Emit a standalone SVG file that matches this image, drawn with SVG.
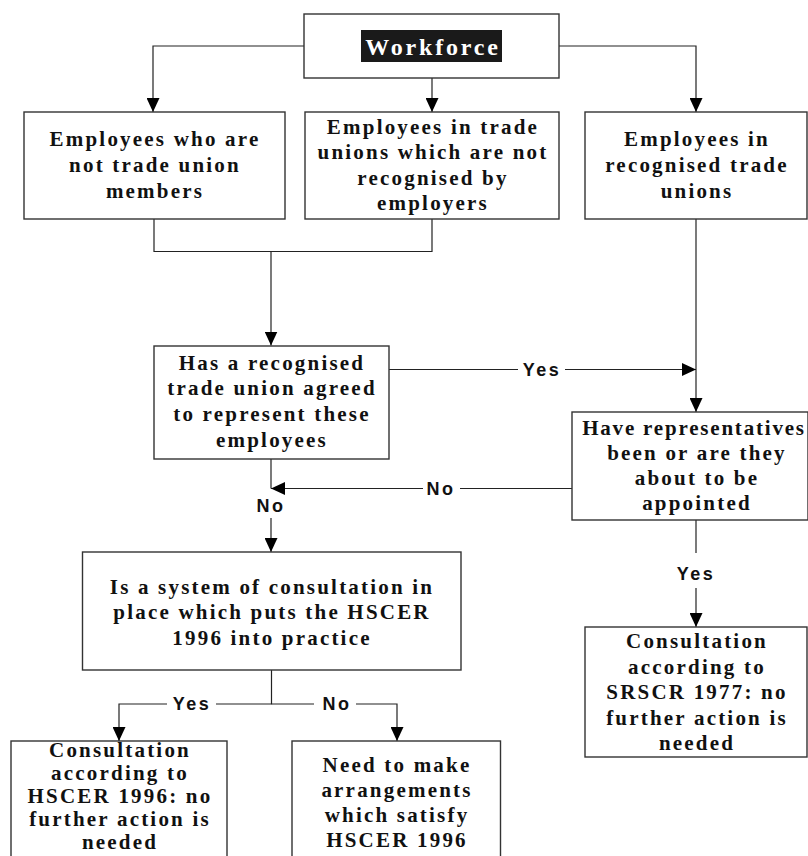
<svg xmlns="http://www.w3.org/2000/svg" width="808" height="856" viewBox="0 0 808 856">
<style>
.box{fill:#fff;stroke:#333;stroke-width:1.4}
.t{font-family:"Liberation Serif","Times New Roman",serif;font-weight:bold;font-size:21px;letter-spacing:2.2px;fill:#111;text-anchor:middle}
.lbl{font-family:"Liberation Sans",Arial,sans-serif;font-weight:bold;font-size:18px;letter-spacing:2.5px;fill:#111;text-anchor:middle}
.c{fill:none;stroke:#222;stroke-width:1.2}
</style>
<defs>
<marker id="arr" markerUnits="userSpaceOnUse" markerWidth="15" markerHeight="13" refX="14" refY="6.5" orient="auto">
<path d="M0,0 L14,6.5 L0,13 z" fill="#000"/>
</marker>
</defs>
<rect width="808" height="856" fill="#fff"/>

<g id="connectors">
<path class="c" d="M304,46 H153 V112" marker-end="url(#arr)"/>
<path class="c" d="M432,78 V112" marker-end="url(#arr)"/>
<path class="c" d="M559,46 H696 V112" marker-end="url(#arr)"/>
<path class="c" d="M154,219 V251.5 H432 V219"/>
<path class="c" d="M271,251.5 V345.5" marker-end="url(#arr)"/>
<path class="c" d="M696,219 V412" marker-end="url(#arr)"/>
<path class="c" d="M389,369.5 H518"/>
<path class="c" d="M565,369.5 H696" marker-end="url(#arr)"/>
<path class="c" d="M572,488.5 H460"/>
<path class="c" d="M423,488.5 H271" marker-end="url(#arr)"/>
<path class="c" d="M271,459 V488.5"/>
<path class="c" d="M271,518 V552" marker-end="url(#arr)"/>
<path class="c" d="M271.5,670 V704 H216"/>
<path class="c" d="M167,704 H119 V741" marker-end="url(#arr)"/>
<path class="c" d="M271.5,704 H314"/>
<path class="c" d="M356,704 H397 V741" marker-end="url(#arr)"/>
<path class="c" d="M696,520 V553"/>
<path class="c" d="M696,588 V627" marker-end="url(#arr)"/>
<text class="lbl" x="542" y="376">Yes</text>
<text class="lbl" x="441" y="495">No</text>
<text class="lbl" x="271" y="512">No</text>
<text class="lbl" x="696" y="580">Yes</text>
<text class="lbl" x="192" y="710">Yes</text>
<text class="lbl" x="337" y="710">No</text>
</g>

<g id="workforce">
<rect class="box" x="304" y="14" width="255" height="64"/>
<rect x="361" y="30" width="141" height="32" fill="#1a1a1a"/>
<text x="433" y="54.5" style="font-family:'Liberation Serif','Times New Roman',serif;font-weight:bold;font-size:24px;letter-spacing:2.8px;fill:#fff;text-anchor:middle">Workforce</text>
</g>

<g id="non-members">
<rect class="box" x="24" y="112" width="261" height="107"/>
<text class="t" x="155" y="146">Employees who are</text>
<text class="t" x="155" y="172">not trade union</text>
<text class="t" x="155" y="197.5">members</text>
</g>

<g id="unrecognised">
<rect class="box" x="305" y="112" width="254" height="107"/>
<text class="t" x="433" y="133.5">Employees in trade</text>
<text class="t" x="433" y="159">unions which are not</text>
<text class="t" x="433" y="184.5">recognised by</text>
<text class="t" x="433" y="210">employers</text>
</g>

<g id="recognised">
<rect class="box" x="585" y="112" width="222" height="107"/>
<text class="t" x="697" y="146">Employees in</text>
<text class="t" x="697" y="172">recognised trade</text>
<text class="t" x="697" y="197.5">unions</text>
</g>

<g id="agreed">
<rect class="box" x="154" y="346" width="235" height="113"/>
<text class="t" x="272" y="369.5">Has a recognised</text>
<text class="t" x="272" y="395">trade union agreed</text>
<text class="t" x="272" y="421">to represent these</text>
<text class="t" x="272" y="447">employees</text>
</g>

<g id="representatives">
<rect class="box" x="572" y="412" width="236" height="108"/>
<text class="t" x="694" y="435" style="letter-spacing:1.8px">Have representatives</text>
<text class="t" x="697" y="460">been or are they</text>
<text class="t" x="697" y="485">about to be</text>
<text class="t" x="697" y="510">appointed</text>
</g>

<g id="system">
<rect class="box" x="82.5" y="552" width="378.5" height="118"/>
<text class="t" x="272" y="593.5">Is a system of consultation in</text>
<text class="t" x="272" y="619">place which puts the HSCER</text>
<text class="t" x="272" y="644.5">1996 into practice</text>
</g>

<g id="srscr">
<rect class="box" x="585" y="627" width="222" height="130"/>
<text class="t" x="697" y="648">Consultation</text>
<text class="t" x="697" y="673.5">according to</text>
<text class="t" x="697" y="699">SRSCR 1977: no</text>
<text class="t" x="697" y="724.5">further action is</text>
<text class="t" x="697" y="750">needed</text>
</g>

<g id="hscer-consult">
<rect class="box" x="11" y="741" width="216" height="135"/>
<text class="t" x="120" y="757">Consultation</text>
<text class="t" x="120" y="780">according to</text>
<text class="t" x="120" y="803">HSCER 1996: no</text>
<text class="t" x="120" y="826">further action is</text>
<text class="t" x="120" y="849">needed</text>
</g>

<g id="arrangements">
<rect class="box" x="292" y="741" width="208.5" height="135"/>
<text class="t" x="397" y="772">Need to make</text>
<text class="t" x="397" y="797">arrangements</text>
<text class="t" x="397" y="822">which satisfy</text>
<text class="t" x="397" y="847">HSCER 1996</text>
</g>
</svg>
